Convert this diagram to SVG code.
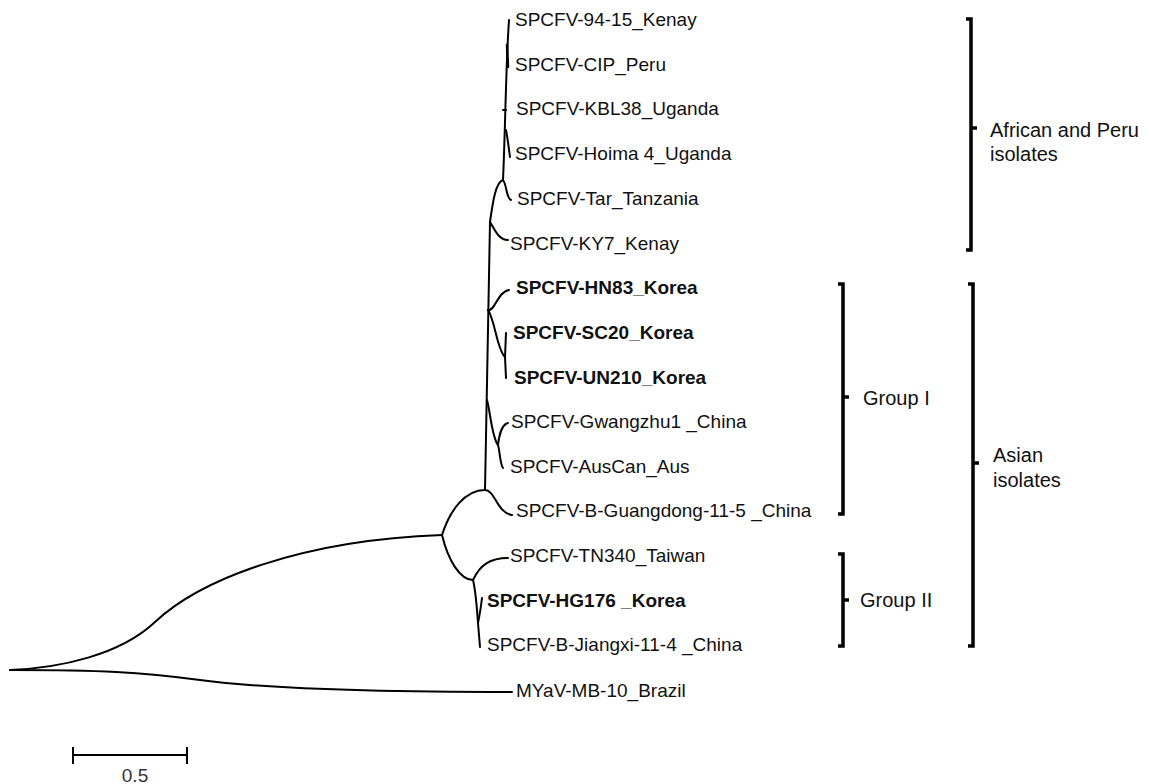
<svg xmlns="http://www.w3.org/2000/svg" width="1149" height="784" viewBox="0 0 1149 784">
<style>
.br{fill:none;stroke:#000;stroke-width:2;stroke-linecap:round;stroke-linejoin:round}
.bk{fill:none;stroke:#000;stroke-width:3.5;stroke-linecap:butt;stroke-linejoin:miter}
.lb{font-family:"Liberation Sans",Arial,sans-serif;font-size:19px;fill:#111}
.bd{font-weight:bold}
.gl{font-family:"Liberation Sans",Arial,sans-serif;font-size:20px;fill:#111}
</style>
<rect width="1149" height="784" fill="#fff"/>
<g id="connectors">
<path class="br" d="M10,670 C60,668 120,655 155,622 C200,580 300,540 442,535"/>
<path class="br" d="M10,670 C100,670 140,672 200,680 C260,688 350,692 512,692"/>
<path class="br" d="M442,535 C450,510 465,490 485,490"/>
<path class="br" d="M485,490 C495,490 497,513 512,515"/>
<path class="br" d="M442,535 C448,560 460,580 473,580"/>
<path class="br" d="M473,580 C480,565 490,558 508,558"/>
<path class="br" d="M473,580 C476,592 477,610 478,623 L480,647"/>
<path class="br" d="M478,623 C480,614 481,606 482,598"/>
<path class="br" d="M485,490 L490,222"/>
<path class="br" d="M487,400 C490,410 492,438 498,445"/>
<path class="br" d="M498,445 C499,436 502,424 508,423"/>
<path class="br" d="M498,445 C500,452 500,464 503,468"/>
<path class="br" d="M488,310 C495,312 497,292 509,290"/>
<path class="br" d="M488,310 C495,320 497,350 505,357"/>
<path class="br" d="M505,357 L506,333"/>
<path class="br" d="M505,357 L506,378"/>
<path class="br" d="M490,222 C494,228 498,240 508,240"/>
<path class="br" d="M490,222 C493,200 496,182 503,180"/>
<path class="br" d="M503,180 C507,185 506,198 511,200"/>
<path class="br" d="M503,180 C505,140 506,60 509,20"/>
<path class="br" d="M506,110 L503,110"/>
<path class="br" d="M506,130 C508,140 509,150 510,157"/>
<path class="br" d="M507,45 L508,67" style="stroke-width:2.5"/>
</g>
<g id="leaves">
<text id="n-9415" class="lb" x="515" y="26">SPCFV-94-15_Kenay</text>
<text id="n-cip" class="lb" x="515" y="70.7">SPCFV-CIP_Peru</text>
<text id="n-kbl38" class="lb" x="516" y="115.4">SPCFV-KBL38_Uganda</text>
<text id="n-hoima" class="lb" x="515" y="160.1">SPCFV-Hoima 4_Uganda</text>
<text id="n-tar" class="lb" x="517" y="204.8">SPCFV-Tar_Tanzania</text>
<text id="n-ky7" class="lb" x="510" y="249.5">SPCFV-KY7_Kenay</text>
<text id="n-hn83" class="lb bd" x="516" y="294.2">SPCFV-HN83_Korea</text>
<text id="n-sc20" class="lb bd" x="513" y="338.9">SPCFV-SC20_Korea</text>
<text id="n-un210" class="lb bd" x="514" y="383.6">SPCFV-UN210_Korea</text>
<text id="n-gwz" class="lb" x="511" y="428.3">SPCFV-Gwangzhu1 _China</text>
<text id="n-aus" class="lb" x="510" y="473">SPCFV-AusCan_Aus</text>
<text id="n-bgd" class="lb" x="516" y="517.2">SPCFV-B-Guangdong-11-5 _China</text>
<text id="n-tn340" class="lb" x="510" y="562">SPCFV-TN340_Taiwan</text>
<text id="n-hg176" class="lb bd" x="487" y="606.7">SPCFV-HG176 _Korea</text>
<text id="n-bjx" class="lb" x="487" y="651.4">SPCFV-B-Jiangxi-11-4 _China</text>
<text id="n-myav" class="lb" x="516" y="696.5">MYaV-MB-10_Brazil</text>
</g>
<g id="bracket-african">
<path class="bk" d="M966,19 L971,19 L971,250 L966,250"/>
<path class="bk" d="M971,128 L977,128"/>
<text class="gl" x="990" y="137">African and Peru</text>
<text class="gl" x="990" y="161">isolates</text>
</g>
<g id="bracket-group1">
<path class="bk" d="M838,284 L843,284 L843,514 L838,514"/>
<path class="bk" d="M843,397 L849,397"/>
<text class="gl" x="863" y="405">Group I</text>
</g>
<g id="bracket-group2">
<path class="bk" d="M838,554 L843,554 L843,646 L838,646"/>
<path class="bk" d="M843,600 L849,600"/>
<text class="gl" x="860" y="607">Group II</text>
</g>
<g id="bracket-asian">
<path class="bk" d="M968,284 L973,284 L973,646 L968,646"/>
<path class="bk" d="M973,463 L979,463"/>
<text class="gl" x="993" y="462">Asian</text>
<text class="gl" x="993" y="487">isolates</text>
</g>
<g id="scale-bar">
<path class="br" d="M73,755 L187,755 M73,747 L73,764 M187,747 L187,764" style="stroke-linecap:butt"/>
<text class="lb" x="135" y="782" text-anchor="middle" style="fill:#333">0.5</text>
</g>
</svg>
